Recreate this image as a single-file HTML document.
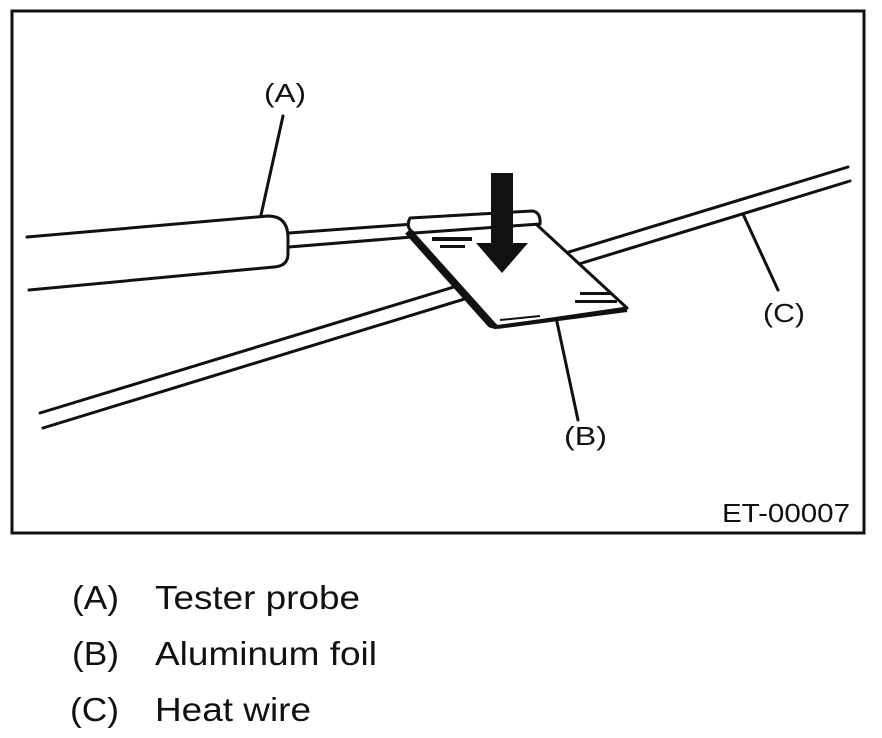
<!DOCTYPE html>
<html><head><meta charset="utf-8"><style>
html,body{margin:0;padding:0;background:#fff;}
svg{display:block;}
text{font-family:"Liberation Sans",Arial,sans-serif;fill:#111;}
</style></head><body>
<svg width="882" height="738" viewBox="0 0 882 738" xmlns="http://www.w3.org/2000/svg">
<rect x="12" y="11" width="852" height="522" fill="#fff" stroke="#111" stroke-width="3"/>
<g stroke="#111" stroke-width="3" fill="none" stroke-linecap="round">
<line x1="40" y1="413" x2="848" y2="167"/>
<line x1="43" y1="428" x2="850" y2="181"/>
<path d="M27 237 L268 216 Q288 216 288 238 L288 254 Q288 266 274 267 L29 290"/>
<line x1="289" y1="233" x2="414" y2="224"/>
<line x1="289" y1="247" x2="412" y2="237"/>
<line x1="283" y1="116" x2="261" y2="215"/>
<line x1="743" y1="214" x2="778" y2="290"/>
<line x1="557" y1="322" x2="578" y2="420"/>
</g>
<g stroke="#111" stroke-width="3" fill="#fff" stroke-linejoin="round">
<path d="M410 230 L536 224 L627 308 L497 327 Z"/>
<path d="M410 218 L532 211 Q541 212 540 224 L414 233 Q405 228 410 218 Z"/>
<path d="M407 232 L490 325 L497 327" fill="none" stroke-width="5"/>
<path d="M497 327 L627 310" fill="none" stroke-width="4"/>
<line x1="500" y1="320" x2="540" y2="316" stroke-width="2"/>
</g>
<g fill="#111">
<rect x="432" y="237" width="40" height="4"/>
<rect x="440" y="245" width="25" height="3"/>
<rect x="580" y="292" width="32" height="3"/>
<rect x="575" y="300" width="42" height="3"/>
<rect x="491" y="173" width="22" height="72"/>
<polygon points="476,243 528,243 502,273"/>
</g>
<text x="264" y="102" font-size="26" textLength="42" lengthAdjust="spacingAndGlyphs">(A)</text>
<text x="763" y="322" font-size="26" textLength="42" lengthAdjust="spacingAndGlyphs">(C)</text>
<text x="564" y="445" font-size="26" textLength="43" lengthAdjust="spacingAndGlyphs">(B)</text>
<text x="722" y="522" font-size="26" textLength="128" lengthAdjust="spacingAndGlyphs">ET-00007</text>
<text x="72" y="609" font-size="33" textLength="47" lengthAdjust="spacingAndGlyphs">(A)</text>
<text x="155" y="609" font-size="33" textLength="205" lengthAdjust="spacingAndGlyphs">Tester probe</text>
<text x="72" y="665" font-size="33" textLength="47" lengthAdjust="spacingAndGlyphs">(B)</text>
<text x="155" y="665" font-size="33" textLength="222" lengthAdjust="spacingAndGlyphs">Aluminum foil</text>
<text x="70" y="721" font-size="33" textLength="49" lengthAdjust="spacingAndGlyphs">(C)</text>
<text x="155" y="721" font-size="33" textLength="156" lengthAdjust="spacingAndGlyphs">Heat wire</text>
</svg>
</body></html>
